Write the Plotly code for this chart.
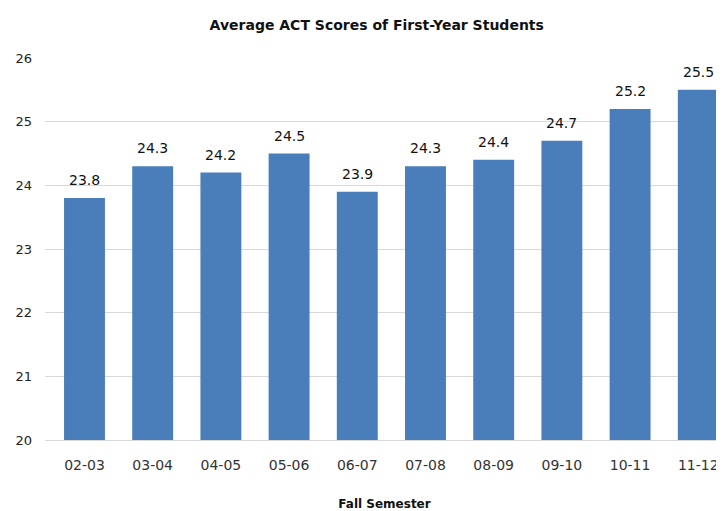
import plotly.graph_objects as go

categories = ["02-03", "03-04", "04-05", "05-06", "06-07", "07-08", "08-09", "09-10", "10-11", "11-12"]
scores = [23.8, 24.3, 24.2, 24.5, 23.9, 24.3, 24.4, 24.7, 25.2, 25.5]
y_ticks = [20, 21, 22, 23, 24, 25, 26]

FONT = "DejaVu Sans"
xs = list(range(len(categories)))

fig = go.Figure(go.Bar(
    x=xs, y=scores,
    marker=dict(color="#4a7ebb", line=dict(width=0)),
    hoverinfo="x+y",
))
for xi, v in zip(xs, scores):
    fig.add_annotation(x=xi, y=v, text=f"{v:.1f}", showarrow=False,
                       yanchor="middle", yshift=18,
                       font=dict(size=14, color="#111111", family=FONT))

# page body has an 8px margin; size the figure so it fills the 724x511 window
fig.update_layout(
    width=716, height=503,
    margin=dict(l=37, r=0, t=50, b=71),
    paper_bgcolor="white", plot_bgcolor="white",
    bargap=0.40,
    showlegend=False,
    title=dict(text="<b>Average ACT Scores of First-Year Students</b>", x=0.515, xanchor="center",
               y=0.966, yanchor="middle", font=dict(size=14, color="#111111", family=FONT)),
    font=dict(family=FONT, size=12, color="#222222"),
)
fig.update_xaxes(
    tickmode="array", tickvals=xs, ticktext=categories,
    range=[-0.579, 9.377], showgrid=False, zeroline=False, automargin=False,
    showline=True, linecolor="#d9d9d9", linewidth=1,
    tickfont=dict(size=14, color="#333333", family=FONT),
    ticks="outside", ticklen=12, tickcolor="rgba(0,0,0,0)",
    title=dict(text="<b>Fall Semester</b>", font=dict(size=12, color="#111111", family=FONT), standoff=29),
)
fig.update_yaxes(
    range=[20, 26], tickvals=y_ticks, showgrid=True, gridcolor="#d9d9d9", gridwidth=1,
    zeroline=False, automargin=False, tickfont=dict(size=13, color="#222222", family=FONT),
    ticklabelstandoff=12,
)
fig.write_html("out.html")
